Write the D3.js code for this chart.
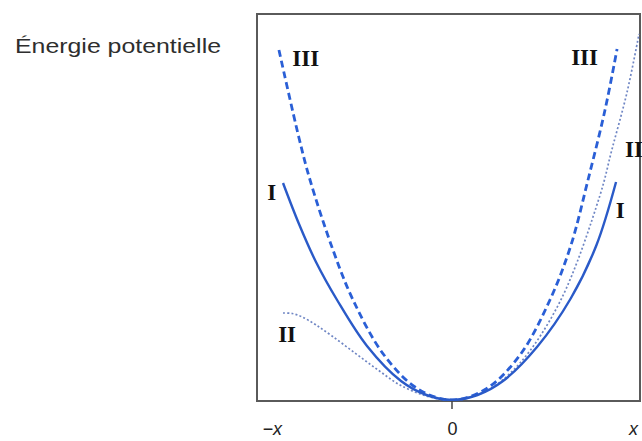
<!DOCTYPE html>
<html>
<head>
<meta charset="utf-8">
<script src="https://cdn.jsdelivr.net/npm/d3@7"></script>
<style>
  html, body { margin: 0; padding: 0; background: #fff; }
  svg { display: block; }
</style>
</head>
<body>
<svg id="chart" width="642" height="441"></svg>
<script>
// Potential energy curves: displacement (x) vs energy (E)
const curveI_x  = [-0.994, -0.9, -0.8, -0.676, -0.5, -0.3, -0.15, 0, 0.15, 0.3, 0.5, 0.7, 0.85, 0.965];
const curveI_E  = [2.17, 1.76, 1.38, 1.00, 0.54, 0.19, 0.05, 0, 0.05, 0.19, 0.53, 1.02, 1.55, 2.18];

const curveIII_x = [-1.018, -0.9, -0.835, -0.7, -0.582, -0.4, -0.2, 0, 0.2, 0.4, 0.576, 0.7, 0.8, 0.9, 0.971];
const curveIII_E = [3.50, 2.62, 2.20, 1.50, 1.00, 0.45, 0.11, 0, 0.11, 0.45, 1.00, 1.55, 2.20, 2.90, 3.51];

const curveII_x = [-0.994, -0.94, -0.88, -0.8, -0.706, -0.571, -0.435, -0.306, -0.15, 0, 0.2, 0.4, 0.64, 0.871, 0.94, 1.03, 1.1];
const curveII_E = [0.87, 0.865, 0.83, 0.75, 0.64, 0.47, 0.30, 0.15, 0.04, 0, 0.09, 0.37, 1.00, 2.05, 2.50, 3.08, 3.66];

const tickLabels = ["\u2212x", "0", "x"];
const tickValues = [-1.06, 0, 1.065];
const yTitle = "\u00c9nergie potentielle";

// Curve labels: [text, x, E]
const labelText = ["III", "III", "I", "I", "II", "II"];
const labelX    = [-0.86, 0.78, -1.06, 0.99, -0.97, 1.07];
const labelE    = [3.34, 3.35, 2.0, 1.82, 0.58, 2.43];

const svg = d3.select("#chart");
const box = { left: 257, top: 14, right: 640, bottom: 401 };

const x = d3.scaleLinear().domain([-1, 1]).range([282, 622]);
const y = d3.scaleLinear().domain([0, 1]).range([400, 300]);

svg.append("defs").append("clipPath").attr("id", "plotClip")
  .append("rect")
  .attr("x", box.left).attr("y", box.top)
  .attr("width", box.right - box.left).attr("height", box.bottom - box.top);

// frame
svg.append("rect")
  .attr("x", box.left).attr("y", box.top)
  .attr("width", box.right - box.left).attr("height", box.bottom - box.top)
  .attr("fill", "none").attr("stroke", "#5a5a5a").attr("stroke-width", 2);

// x axis labels, with a tick at zero
const xAxis = d3.axisBottom(x)
  .tickValues(tickValues)
  .tickFormat((d, i) => tickLabels[i])
  .tickSize(0)
  .tickPadding(21);
const gx = svg.append("g").attr("transform", `translate(0,${box.bottom})`).call(xAxis);
gx.select(".domain").remove();
gx.selectAll("text")
  .style("font-family", "Liberation Sans, Arial, sans-serif")
  .style("font-size", "18px")
  .style("fill", "#222")
  .style("font-style", (d, i) => i === 1 ? "normal" : "italic");
svg.append("line")
  .attr("x1", x(0)).attr("x2", x(0))
  .attr("y1", box.bottom).attr("y2", box.bottom + 8)
  .attr("stroke", "#444").attr("stroke-width", 1.5);

// y title
svg.append("text")
  .attr("x", 15).attr("y", 53)
  .attr("font-family", "Liberation Sans, Arial, sans-serif")
  .attr("font-size", 21)
  .attr("fill", "#2e2e2e")
  .attr("textLength", 206)
  .attr("lengthAdjust", "spacingAndGlyphs")
  .text(yTitle);

const line = d3.line()
  .x(d => x(d[0]))
  .y(d => y(d[1]))
  .curve(d3.curveCatmullRom.alpha(0.5));

const plot = svg.append("g").attr("clip-path", "url(#plotClip)");

// II: dotted
plot.append("path")
  .datum(d3.zip(curveII_x, curveII_E))
  .attr("d", line)
  .attr("fill", "none")
  .attr("stroke", "#6f86c4")
  .attr("stroke-width", 1.7)
  .attr("stroke-dasharray", "2,2.2");

// III: dashed
plot.append("path")
  .datum(d3.zip(curveIII_x, curveIII_E))
  .attr("d", line)
  .attr("fill", "none")
  .attr("stroke", "#2a5fd6")
  .attr("stroke-width", 2.8)
  .attr("stroke-dasharray", "7,4");

// I: solid
plot.append("path")
  .datum(d3.zip(curveI_x, curveI_E))
  .attr("d", line)
  .attr("fill", "none")
  .attr("stroke", "#2a5ac8")
  .attr("stroke-width", 2.4);

// curve labels
svg.selectAll("text.curve-label")
  .data(labelText)
  .join("text")
  .attr("class", "curve-label")
  .attr("x", (d, i) => x(labelX[i]))
  .attr("y", (d, i) => y(labelE[i]))
  .attr("text-anchor", "middle")
  .attr("font-family", "Liberation Serif, Times New Roman, serif")
  .attr("font-weight", "bold")
  .attr("font-size", 23)
  .attr("fill", "#111")
  .text(d => d);
</script>
</body>
</html>
